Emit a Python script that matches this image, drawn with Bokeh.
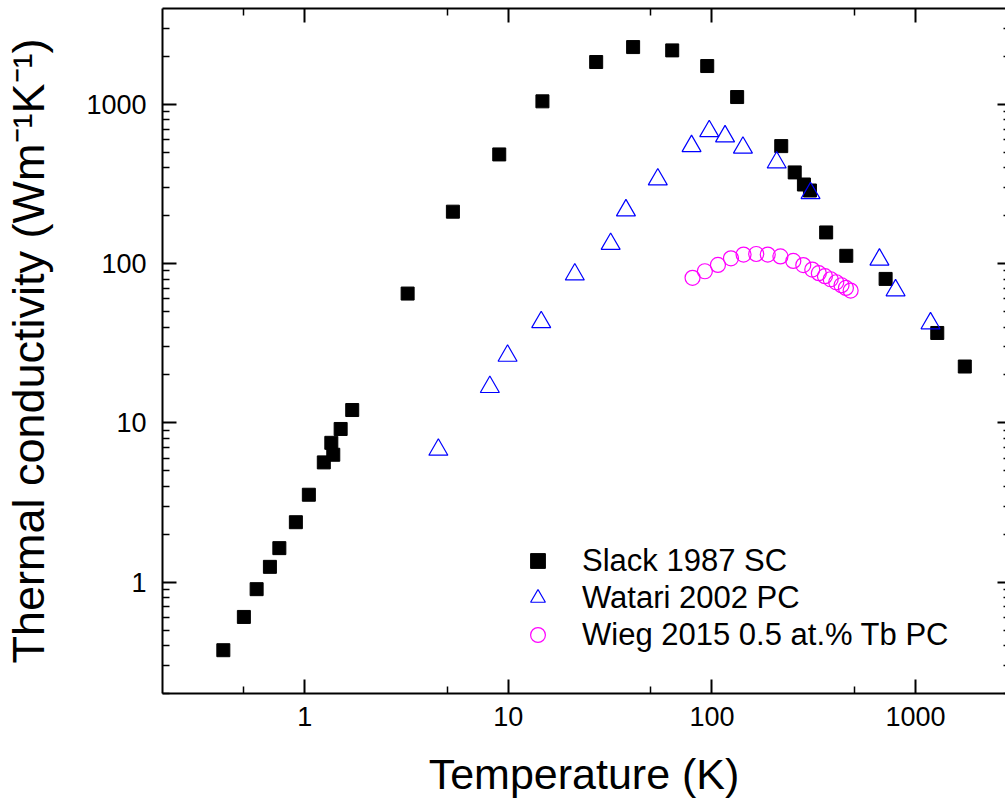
from bokeh.plotting import figure
from bokeh.models import LogAxis, FixedTicker, Legend, LegendItem, PrintfTickFormatter
from bokeh.embed import file_html
from bokeh.resources import INLINE

# ---- data ----
slack_T = [0.398, 0.502, 0.580, 0.674, 0.750, 0.904, 1.047, 1.24, 1.38, 1.35, 1.50, 1.71,
           3.2, 5.34, 9.02, 14.7, 27.0, 41.0, 63.8, 94.8, 133, 219, 255, 283, 303, 364, 457,
           713, 1279, 1746]
slack_k = [0.374, 0.605, 0.904, 1.248, 1.636, 2.38, 3.54, 5.65, 6.31, 7.5, 9.16, 12.05,
           64.9, 212, 485, 1045, 1845, 2290, 2183, 1741, 1112, 547, 374, 314, 288, 157, 112,
           80.2, 36.7, 22.6]

watari_T = [4.53, 8.11, 9.91, 14.5, 21.2, 31.8, 37.8, 54.2, 79.4, 97.0, 116, 142, 208, 305,
            665, 798, 1185]
watari_k = [6.79, 16.8, 26.4, 42.9, 85.5, 133, 216, 338, 547, 679, 630, 535, 432, 277,
            106, 68, 42.2]

wieg_T = [80.3, 92.3, 107, 124, 143, 165, 188, 217, 251, 281, 311, 335, 359, 383, 408, 433,
          455, 480]
wieg_k = [81.5, 89.6, 98.2, 108, 114, 115, 114, 111, 104, 98, 91.8, 87.1, 83.4, 79.8, 76.4,
          73.2, 70.4, 67.8]

x_ticks = [1, 10, 100, 1000]
x_minor = [0.5, 5, 50, 500]
y_ticks = [1, 10, 100, 1000]
y_minor = [0.2, 0.3, 0.4, 0.5, 0.6, 0.7, 0.8, 0.9,
           2, 3, 4, 5, 6, 7, 8, 9,
           20, 30, 40, 50, 60, 70, 80, 90,
           200, 300, 400, 500, 600, 700, 800, 900,
           2000, 3000]

series_labels = ["Slack 1987 SC", "Watari 2002 PC", "Wieg 2015 0.5 at.% Tb PC"]

FONT = "Liberation Sans"

p = figure(width=1005, height=806, x_axis_type="log", y_axis_type="log",
           x_range=(0.2, 2767), y_range=(0.2, 4000),
           output_backend="svg", toolbar_location=None,
           min_border_left=162, min_border_right=0, min_border_top=8, min_border_bottom=113,
           x_axis_label="Temperature (K)",
           y_axis_label="Thermal conductivity (Wm\u207b\u00b9K\u207b\u00b9)")
p.grid.visible = False
p.outline_line_color = None
p.background_fill_color = "white"
p.border_fill_color = "white"

xt = FixedTicker(ticks=x_ticks, minor_ticks=x_minor)
yt = FixedTicker(ticks=y_ticks, minor_ticks=y_minor)


def style_axis(ax, ticker, labels=True):
    ax.ticker = ticker
    ax.axis_line_color = "black"
    ax.axis_line_width = 2
    ax.major_tick_line_color = "black"
    ax.minor_tick_line_color = "black"
    ax.major_tick_line_width = 2
    ax.minor_tick_line_width = 1.5
    ax.major_tick_in = 14
    ax.major_tick_out = 0
    ax.minor_tick_in = 7
    ax.minor_tick_out = 0
    if labels:
        ax.formatter = PrintfTickFormatter(format="%d")
        ax.major_label_text_font = FONT
        ax.major_label_text_font_size = "27px"
        ax.major_label_text_color = "black"
        ax.axis_label_text_font = FONT
        ax.axis_label_text_font_size = "43px"
        ax.axis_label_text_font_style = "normal"
        ax.axis_label_text_color = "black"
    else:
        ax.major_label_text_font_size = "1px"
        ax.major_label_text_alpha = 0
        ax.major_label_standoff = 0


xa = p.xaxis[0]
ya = p.yaxis[0]
style_axis(xa, xt)
style_axis(ya, yt)
xa.major_label_standoff = 13
xa.axis_label_standoff = 21
ya.major_label_standoff = 16
ya.axis_label_standoff = 29
ya.axis_label_text_font_size = "45px"

top = LogAxis()
style_axis(top, FixedTicker(ticks=x_ticks, minor_ticks=x_minor), labels=False)
p.add_layout(top, "above")
right = LogAxis()
style_axis(right, FixedTicker(ticks=y_ticks, minor_ticks=y_minor), labels=False)
right.axis_line_color = None
right.major_tick_in = 8
right.minor_tick_in = 2
p.add_layout(right, "right")

r1 = p.scatter(slack_T, slack_k, marker="square", size=13, fill_color="black",
               line_color="black", line_width=1)
r2 = p.scatter(watari_T, watari_k, marker="triangle", size=19, fill_color=None,
               line_color="#0000FF", line_width=1.2)
r3 = p.scatter(wieg_T, wieg_k, marker="circle", size=15, fill_color=None,
               line_color="#FF00FF", line_width=1.2)

legend = Legend(items=[LegendItem(label=series_labels[0], renderers=[r1]),
                       LegendItem(label=series_labels[1], renderers=[r2]),
                       LegendItem(label=series_labels[2], renderers=[r3])],
                location=(357, 40))
legend.border_line_color = None
legend.background_fill_alpha = 0
legend.label_text_font = FONT
legend.label_text_font_size = "31px"
legend.label_text_color = "black"
legend.glyph_width = 37
legend.glyph_height = 37
legend.label_standoff = 26
legend.spacing = 0
legend.padding = 0
legend.margin = 0
p.add_layout(legend, "center")

open("out.html", "w").write(file_html(p, INLINE))
